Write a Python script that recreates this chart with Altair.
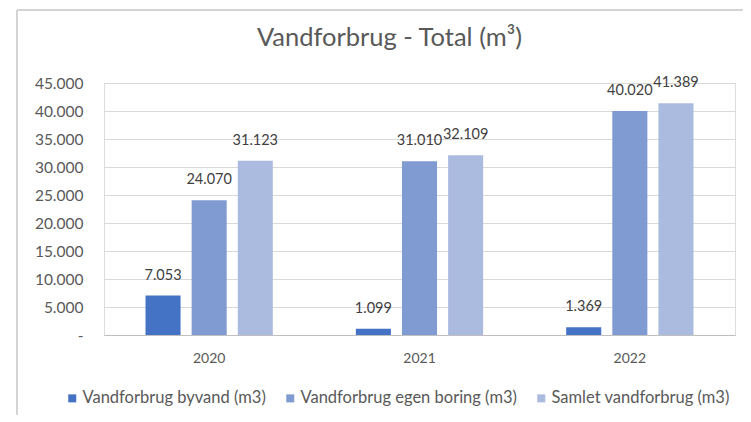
import altair as alt
import pandas as pd

years = ["2020", "2021", "2022"]
series = ["Vandforbrug byvand (m3)", "Vandforbrug egen boring (m3)", "Samlet vandforbrug (m3)"]
byvand = [7053, 1099, 1369]
egen_boring = [24070, 31010, 40020]
samlet = [31123, 32109, 41389]
colors = ["#4472C4", "#7F9BD2", "#ABBBDF"]
y_ticks = [0, 5000, 10000, 15000, 20000, 25000, 30000, 35000, 40000, 45000]

rows = []
for s, vals in zip(series, [byvand, egen_boring, samlet]):
    for y, v in zip(years, vals):
        rows.append({"year": y, "series": s, "value": v,
                     "label": f"{v:,}".replace(",", ".")})
df = pd.DataFrame(rows)

FONT = "Lato"
GREY = "#595959"

x_enc = alt.X("year:N", title=None, sort=years,
              scale=alt.Scale(paddingInner=0, paddingOuter=0),
              axis=alt.Axis(labelAngle=0, ticks=False, labelPadding=16,
                            labelFontSize=14, labelColor=GREY, labelFont=FONT,
                            domainColor="#BFBFBF", grid=False))
xoff = alt.XOffset("series:N", sort=series,
                   scale=alt.Scale(paddingInner=0.24, paddingOuter=0.9))
y_enc = alt.Y("value:Q", title=None,
              scale=alt.Scale(domain=[0, 45000], nice=False),
              axis=alt.Axis(values=y_ticks, domain=False, ticks=False,
                            labelOverlap=False,
                            labelPadding=21, labelFontSize=15.5, labelColor=GREY,
                            labelFont=FONT, gridColor="#D9D9D9",
                            labelExpr="datum.value == 0 ? '-' : replace(format(datum.value, ',.0f'), ',', '.')"))

bars = alt.Chart(df).mark_bar().encode(
    x=x_enc, xOffset=xoff, y=y_enc,
    color=alt.Color("series:N", sort=series,
                    scale=alt.Scale(domain=series, range=colors),
                    legend=alt.Legend(title=None, orient="none", direction="horizontal",
                                      legendX=-40, legendY=307,
                                      symbolType="square", symbolSize=64,
                                      symbolStrokeWidth=0, labelLimit=400,
                                      labelFontSize=16.5, labelColor=GREY, labelFont=FONT,
                                      columnPadding=16, labelOffset=2)),
)

labels = alt.Chart(df).mark_text(baseline="alphabetic", dy=-16, fontSize=14.5,
                                 color="#404040", font=FONT).encode(
    x=x_enc, xOffset=xoff, y=y_enc, text="label:N")

border_left = alt.Chart(df).mark_rule(color="#D4D4D4", strokeWidth=2).encode(
    x=alt.value(-87), y=alt.value(-73), y2=alt.value(360))
border_top = alt.Chart(df).mark_rule(color="#D4D4D4", strokeWidth=2).encode(
    x=alt.value(-87), x2=alt.value(660), y=alt.value(-73))

chart = alt.layer(bars, labels, border_left, border_top).properties(
    width=631, height=252,
    autosize=alt.AutoSizeParams(type="none"),
    padding={"left": 96, "top": 75, "right": 8, "bottom": 80},
    title=alt.Title("Vandforbrug - Total (m³)", fontSize=25.5, font=FONT,
                    fontWeight="normal", color=GREY, anchor="middle",
                    dx=-30, offset=-42),
).configure_view(stroke=None).configure(background="white")

chart.save("out.html", embed_options={"renderer": "svg", "actions": False})
